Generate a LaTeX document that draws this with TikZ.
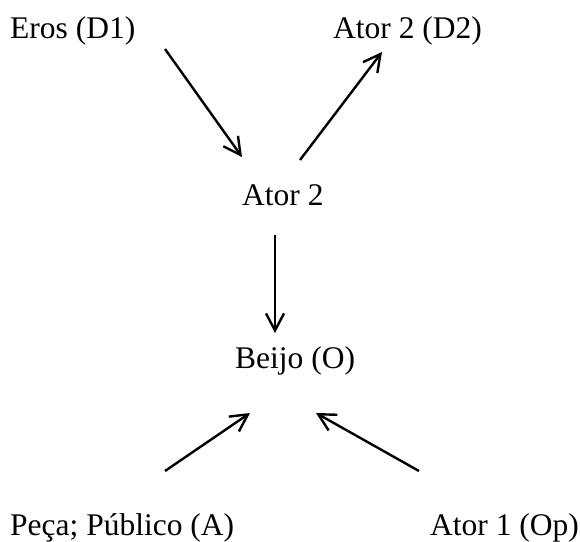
\documentclass[tikz,border=0pt]{standalone}
\usepackage{fontspec}
\setmainfont{Liberation Serif}
\usetikzlibrary{arrows.meta}
\begin{document}
\begin{tikzpicture}[x=1pt,y=-1pt,
  lbl/.style={inner sep=0pt,anchor=base west,font=\fontsize{31.5}{38}\selectfont},
  conn/.style={line width=2.4pt,-{Straight Barb[length=17pt,width=18pt,line width=2.4pt]}}]
\useasboundingbox (0,0) rectangle (580,541);
\node[lbl] (eros) at (10,38) {Eros (D1)};
\node[lbl] (d2) at (333,38) {Ator 2 (D2)};
\node[lbl] (ator2) at (242,205) {Ator 2};
\node[lbl] (beijo) at (235,368) {Beijo (O)};
\node[lbl] (peca) at (10,535) {Peça; Público (A)};
\node[lbl] (ator1) at (430,535) {Ator 1 (Op)};
\coordinate (a1s) at (165,49);
\coordinate (a1e) at (242,157);
\coordinate (a2s) at (300,160);
\coordinate (a2e) at (382,52);
\coordinate (a3s) at (275,235);
\coordinate (a3e) at (275,333);
\coordinate (a4s) at (165,471);
\coordinate (a4e) at (250,413);
\coordinate (a5s) at (419,471);
\coordinate (a5e) at (316,413);
\draw[conn] (a1s) -- (a1e);
\draw[conn] (a2s) -- (a2e);
\draw[conn] (a3s) -- (a3e);
\draw[conn] (a4s) -- (a4e);
\draw[conn] (a5s) -- (a5e);
\end{tikzpicture}
\end{document}
